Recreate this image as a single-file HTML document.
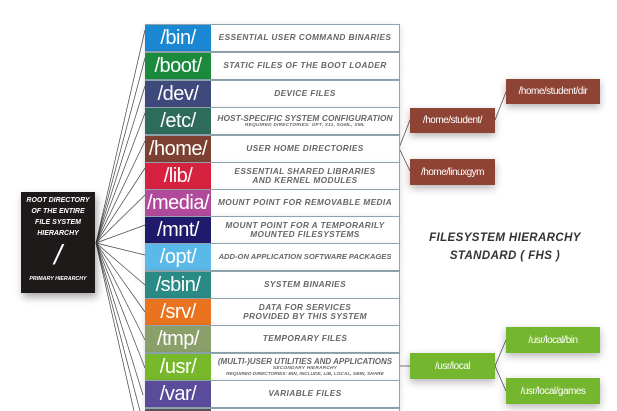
<!DOCTYPE html>
<html><head><meta charset="utf-8"><style>
html,body{margin:0;width:617px;height:411px;overflow:hidden;background:#fff;position:relative;font-family:"Liberation Sans",sans-serif}
.r{position:absolute;left:145px;width:254px;height:26px;border:1px solid #8fa3ad;border-left:none;background:#fff;box-shadow:0 2px 6px rgba(0,0,0,.15)}
.c{position:absolute;left:0;top:0;width:66px;height:26px;color:#fff;font-size:20px;line-height:26px;text-align:center;letter-spacing:-0.5px}
.d{position:absolute;left:66px;right:0;top:0;height:26px;display:flex;flex-direction:column;justify-content:center;align-items:center;font-style:italic;font-weight:bold;color:#666;font-size:8.3px;line-height:9.5px;text-align:center;letter-spacing:.4px;white-space:nowrap}
.s{font-size:4.8px;line-height:5.5px;letter-spacing:.2px}
.b{position:absolute;color:#fff;font-size:10px;letter-spacing:-0.5px;display:flex;align-items:center;justify-content:center;box-shadow:0 3px 8px rgba(0,0,0,.3)}
.br{background:#8e4334}.gr{background:#74b72e}
</style></head><body>
<svg width="617" height="411" style="position:absolute;left:0;top:0">
<g stroke="#444" stroke-width="0.7" fill="none">
<line x1="96" y1="243" x2="145" y2="30"/><line x1="96" y1="243" x2="145" y2="58"/><line x1="96" y1="243" x2="145" y2="86"/><line x1="96" y1="243" x2="145" y2="113"/><line x1="96" y1="243" x2="145" y2="141"/><line x1="96" y1="243" x2="145" y2="168"/><line x1="96" y1="243" x2="145" y2="195"/><line x1="96" y1="243" x2="145" y2="225"/><line x1="96" y1="243" x2="145" y2="255"/><line x1="96" y1="243" x2="145" y2="285"/><line x1="96" y1="243" x2="145" y2="312"/><line x1="96" y1="243" x2="145" y2="340"/><line x1="96" y1="243" x2="145" y2="368"/><line x1="96" y1="243" x2="143" y2="395"/><line x1="96" y1="243" x2="140" y2="411"/><line x1="96" y1="243" x2="134" y2="411"/>
<polyline points="410,120 399,148 410,171"/><line x1="495" y1="120" x2="506" y2="92"/>
<line x1="399" y1="366" x2="410" y2="366"/><polyline points="506,340 495,366 506,391"/>
</g></svg>
<div style="position:absolute;left:21px;top:192px;width:74px;height:101px;background:#1d1a19;color:#fff;font-style:italic;font-weight:bold;text-align:center;box-shadow:2px 4px 8px rgba(0,0,0,.35);white-space:nowrap">
<div style="font-size:7px;line-height:11px;margin-top:3px">ROOT DIRECTORY<br>OF THE ENTIRE<br>FILE SYSTEM<br>HIERARCHY</div>
<div style="font-size:28px;line-height:32px;font-weight:normal">/</div>
<div style="font-size:5.3px;margin-top:5px">PRIMARY HIERARCHY</div></div>
<div class="r" style="top:24px"><div class="c" style="background:#1a87d2">/bin/</div><div class="d">ESSENTIAL USER COMMAND BINARIES</div></div>
<div class="r" style="top:52px"><div class="c" style="background:#1b8a3d">/boot/</div><div class="d">STATIC FILES OF THE BOOT LOADER</div></div>
<div class="r" style="top:80px"><div class="c" style="background:#3f4a7c">/dev/</div><div class="d">DEVICE FILES</div></div>
<div class="r" style="top:107px"><div class="c" style="background:#2f6b5b">/etc/</div><div class="d" style="letter-spacing:.1px">HOST-SPECIFIC SYSTEM CONFIGURATION<span class="s">REQUIRED DIRECTORIES: OPT, X11, SGML, XML</span></div></div>
<div class="r" style="top:135px"><div class="c" style="background:#7c4132">/home/</div><div class="d">USER HOME DIRECTORIES</div></div>
<div class="r" style="top:162px"><div class="c" style="background:#d6213f">/lib/</div><div class="d">ESSENTIAL SHARED LIBRARIES<br>AND KERNEL MODULES</div></div>
<div class="r" style="top:189px"><div class="c" style="background:#b14a9b">/media/</div><div class="d">MOUNT POINT FOR REMOVABLE MEDIA</div></div>
<div class="r" style="top:216px"><div class="c" style="background:#1f1a6b">/mnt/</div><div class="d">MOUNT POINT FOR A TEMPORARILY<br>MOUNTED FILESYSTEMS</div></div>
<div class="r" style="top:243px"><div class="c" style="background:#5bb9e9">/opt/</div><div class="d" style="letter-spacing:0;font-size:7.6px">ADD-ON APPLICATION SOFTWARE PACKAGES</div></div>
<div class="r" style="top:271px"><div class="c" style="background:#2a8a85">/sbin/</div><div class="d">SYSTEM BINARIES</div></div>
<div class="r" style="top:298px"><div class="c" style="background:#e9731f">/srv/</div><div class="d">DATA FOR SERVICES<br>PROVIDED BY THIS SYSTEM</div></div>
<div class="r" style="top:325px"><div class="c" style="background:#8b9f6b">/tmp/</div><div class="d">TEMPORARY FILES</div></div>
<div class="r" style="top:353px"><div class="c" style="background:#78b82b">/usr/</div><div class="d" style="letter-spacing:0;font-size:8px">(MULTI-)USER UTILITIES AND APPLICATIONS<span class="s">SECONDARY HIERARCHY</span><span class="s" style="letter-spacing:0">REQUIRED DIRECTORIES: BIN, INCLUDE, LIB, LOCAL, SBIN, SHARE</span></div></div>
<div class="r" style="top:380px"><div class="c" style="background:#5b4b9b">/var/</div><div class="d">VARIABLE FILES</div></div>
<div class="r" style="top:408px;height:3px;border-bottom:none"><div class="c" style="background:#555;height:3px"></div></div>
<div class="b br" style="left:410px;top:108px;width:85px;height:25px">/home/student/</div>
<div class="b br" style="left:506px;top:79px;width:94px;height:25px">/home/student/dir</div>
<div class="b br" style="left:410px;top:159px;width:85px;height:26px">/home/linuxgym</div>
<div class="b gr" style="left:410px;top:353px;width:85px;height:26px">/usr/local</div>
<div class="b gr" style="left:506px;top:327px;width:94px;height:26px">/usr/local/bin</div>
<div class="b gr" style="left:506px;top:378px;width:94px;height:26px">/usr/local/games</div>
<div style="position:absolute;left:405px;top:229px;width:200px;text-align:center;font-style:italic;font-weight:bold;color:#333;font-size:11.5px;line-height:18px;letter-spacing:.4px">FILESYSTEM HIERARCHY<br>STANDARD ( FHS )</div>
</body></html>
